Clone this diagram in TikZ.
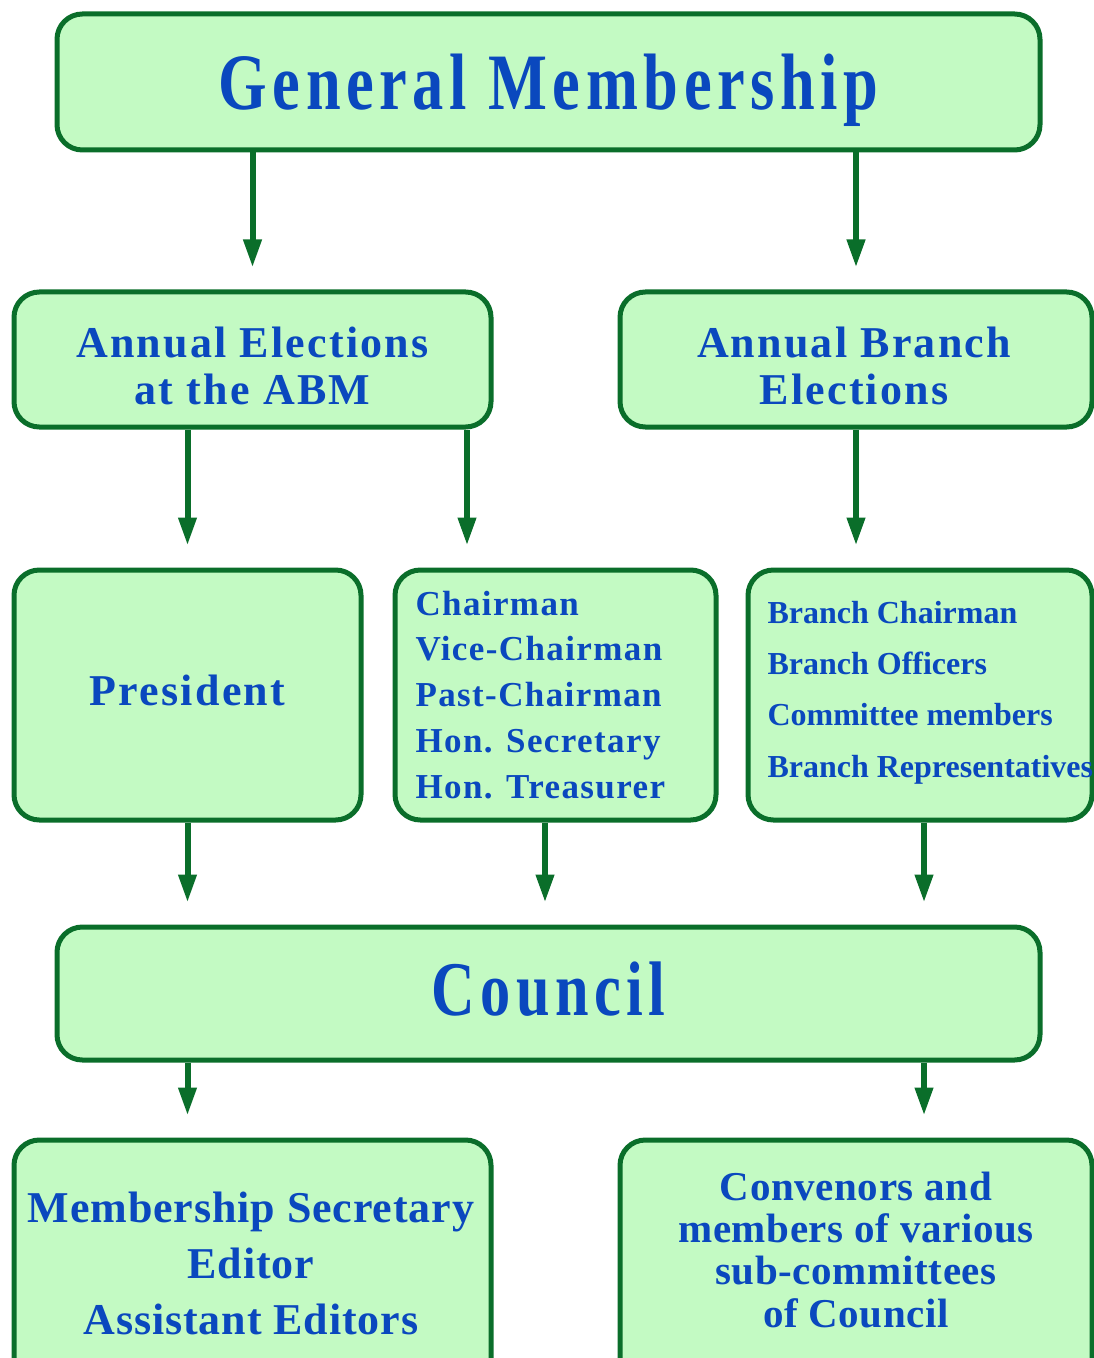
\documentclass[tikz,border=0pt]{standalone}
\usepackage{fontspec}
\setmainfont{Liberation Serif}
\newfontfamily\titleserif[FakeStretch=0.78,LetterSpace=7]{Liberation Serif}
\newfontfamily\boxserif[LetterSpace=5]{Liberation Serif}
\newfontfamily\listserif[LetterSpace=4]{Liberation Serif}
\newfontfamily\msserif[LetterSpace=2]{Liberation Serif}
\newfontfamily\convserif[LetterSpace=1.5]{Liberation Serif}
\usetikzlibrary{arrows.meta}

\definecolor{boxfill}{RGB}{195,250,195}
\definecolor{boxline}{RGB}{10,110,42}
\definecolor{txtblue}{RGB}{10,72,190}

\tikzset{every picture/.style={line width=0.75pt}}

\begin{document}
\begin{tikzpicture}[x=0.75pt,y=0.75pt,yscale=-1,xscale=1,
	box/.style={draw=boxline, fill=boxfill, line width=3.75pt, rounded corners=19pt, inner sep=0pt},
	lbl/.style={text=txtblue, inner sep=0pt},
	arr/.style={draw=boxline, line width=4.5pt, -{Triangle[length=21pt,width=13pt]}, shorten >=16.5pt}]
		%set diagram to 1094 x 1358
		\useasboundingbox (0,0) rectangle (1094,1358);
		\clip (0,0) rectangle (1094,1358);
		
		%Rounded Rect: General Membership
		\node [box, minimum width=737.25pt, minimum height=102pt] (gm) at (548.5,82) {};
		%Rounded Rect: Annual Elections
		\node [box, minimum width=357.75pt, minimum height=101.25pt] (ae) at (252.5,359.5) {};
		%Rounded Rect: Annual Branch Elections
		\node [box, minimum width=354pt, minimum height=101.25pt] (ab) at (856,359.5) {};
		%Rounded Rect: President
		\node [box, minimum width=260.25pt, minimum height=187.5pt] (pres) at (187.5,695) {};
		%Rounded Rect: officers
		\node [box, minimum width=240.75pt, minimum height=187.5pt] (offc) at (555.5,695) {};
		%Rounded Rect: branch officers
		\node [box, minimum width=258pt, minimum height=187.5pt] (brof) at (920,695) {};
		%Rounded Rect: Council
		\node [box, minimum width=737.25pt, minimum height=99.75pt] (council) at (548.5,993.5) {};
		%Rounded Rect: Membership Secretary (cut at the bottom)
		\node [box, minimum width=357.75pt, minimum height=192pt] (msec) at (252.5,1268) {};
		%Rounded Rect: Convenors (cut at the bottom)
		\node [box, minimum width=354pt, minimum height=192pt] (conv) at (856,1268) {};
		
		%x positions of the off-centre arrows
		\coordinate (p1) at (467,0);
		\coordinate (p2) at (545,0);
		\coordinate (p3) at (924,0);
		
		%Arrows
		\draw [arr] (gm.south -| ae) -- (ae.north);
		\draw [arr] (gm.south -| ab) -- (ab.north);
		\draw [arr] (ae.south -| pres) -- (pres.north);
		\draw [arr] (ae.south -| p1) -- (offc.north -| p1);
		\draw [arr] (ab.south) -- (brof.north -| ab);
		\draw [arr] (pres.south) -- (council.north -| pres);
		\draw [arr] (offc.south -| p2) -- (council.north -| p2);
		\draw [arr] (brof.south -| p3) -- (council.north -| p3);
		\draw [arr] (council.south -| pres) -- (msec.north -| pres);
		\draw [arr] (council.south -| p3) -- (conv.north -| p3);
		
		% Text Node (base = last line)
		\node [lbl, anchor=base, font=\titleserif\bfseries\fontsize{60pt}{60pt}\selectfont] (gmtxt) at (548.5,110) {General Membership};
		% Text Node
		\node [lbl, anchor=base, align=center, font=\boxserif\bfseries\fontsize{33pt}{35.25pt}\selectfont] (aetxt) at (252.5,404) {Annual Elections\\at the ABM};
		% Text Node
		\node [lbl, anchor=base, align=center, font=\boxserif\bfseries\fontsize{33pt}{35.25pt}\selectfont] (abtxt) at (854,404) {Annual Branch\\Elections};
		% Text Node
		\node [lbl, anchor=base, font=\boxserif\bfseries\fontsize{33pt}{35.25pt}\selectfont] (prestxt) at (187.5,705) {President};
		% Text Node
		\node [lbl, anchor=base west, align=left, font=\listserif\bfseries\fontsize{26.25pt}{34.3pt}\selectfont] (offctxt) at (415,798) {Chairman\\Vice-Chairman\\Past-Chairman\\Hon. Secretary\\Hon. Treasurer};
		% Text Node
		\node [lbl, anchor=base west, align=left, font=\bfseries\fontsize{24pt}{38.5pt}\selectfont] (broftxt) at (767,777) {Branch Chairman\\Branch Officers\\Committee members\\Branch Representatives};
		% Text Node
		\node [lbl, anchor=base, font=\titleserif\bfseries\fontsize{58pt}{58pt}\selectfont] (counciltxt) at (548.5,1015) {Council};
		% Text Node
		\node [lbl, anchor=base, align=center, font=\msserif\bfseries\fontsize{33pt}{42pt}\selectfont] (msectxt) at (251,1334) {Membership Secretary\\Editor\\Assistant Editors};
		% Text Node
		\node [lbl, anchor=base, align=center, font=\convserif\bfseries\fontsize{30.75pt}{31.7pt}\selectfont] (convtxt) at (856,1327) {Convenors and\\members of various\\sub-committees\\of Council};
		
\end{tikzpicture}
\end{document}
